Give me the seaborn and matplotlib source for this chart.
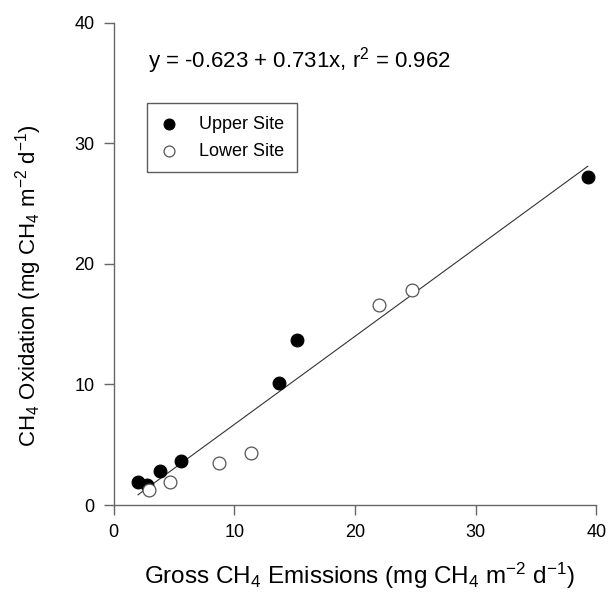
import numpy as np
import pandas as pd
import matplotlib
matplotlib.use("Agg")
import matplotlib.pyplot as plt
import seaborn as sns

# values
upper_x = [2.0, 2.8, 3.8, 5.6, 13.7, 15.2, 39.3]
upper_y = [1.9, 1.7, 2.8, 3.65, 10.1, 13.7, 27.2]
lower_x = [2.9, 4.7, 8.7, 11.35, 22.0, 24.7]
lower_y = [1.25, 1.9, 3.45, 4.3, 16.6, 17.8]

# regression printed on the chart
intercept = -0.623
slope = 0.731
r2 = 0.962

sns.set_theme(style="white")
plt.rcParams['font.family'] = ['Liberation Sans', 'DejaVu Sans']
plt.rcParams['mathtext.default'] = 'regular'
plt.rcParams['text.color'] = 'black'
plt.rcParams['axes.labelcolor'] = 'black'
plt.rcParams['xtick.labelcolor'] = 'black'
plt.rcParams['ytick.labelcolor'] = 'black'

upper = pd.DataFrame({"x": upper_x, "y": upper_y})
lower = pd.DataFrame({"x": lower_x, "y": lower_y})

fig = plt.figure(figsize=(6.09, 6.0), dpi=100)
ax = fig.add_axes([0.1867, 0.1583, 0.7926, 0.8038])

# fitted line over the range of the data
all_x = np.array(upper_x + lower_x)
fit = pd.DataFrame({"x": [all_x.min(), all_x.max()]})
fit["y"] = intercept + slope * fit["x"]
sns.lineplot(data=fit, x="x", y="y", color="#333333", linewidth=0.8, ax=ax)

sns.scatterplot(data=upper, x="x", y="y", ax=ax, s=85, color="black",
                edgecolor="black", linewidth=0.8, label="Upper Site", zorder=3)
sns.scatterplot(data=lower, x="x", y="y", ax=ax, s=85, facecolor="white",
                edgecolor="#555555", linewidth=0.9, label="Lower Site", zorder=3)

ax.set_xlim(0, 40)
ax.set_ylim(0, 40)
ax.set_xticks([0, 10, 20, 30, 40])
ax.set_yticks([0, 10, 20, 30, 40])
sns.despine(ax=ax)
for s in ["left", "bottom"]:
    ax.spines[s].set_color("#666666")
    ax.spines[s].set_linewidth(1.0)
ax.tick_params(axis="both", which="major", direction="out", length=7, width=1.0,
               color="#666666", labelsize=13, pad=7, left=True, bottom=True)

ax.set_xlabel("Gross CH$_4$ Emissions (mg CH$_4$ m$^{-2}$ d$^{-1}$)", fontsize=17.5)
ax.set_ylabel("CH$_4$ Oxidation (mg CH$_4$ m$^{-2}$ d$^{-1}$)", fontsize=16)
ax.xaxis.set_label_coords(0.508, -0.116)
ax.yaxis.set_label_coords(-0.144, 0.454)

ax.text(2.84, 36.3, f"y = {intercept} + {slope}x, r$^2$ = {r2}", fontsize=16, va="baseline")

leg = ax.legend(loc="upper left", bbox_to_anchor=(0.0696, 0.833), frameon=True,
                fancybox=False, fontsize=13, borderpad=0.7, labelspacing=0.55,
                handlelength=1.0, handletextpad=1.15, markerscale=0.85,
                borderaxespad=0)
leg.get_frame().set_edgecolor("#333333")
leg.get_frame().set_linewidth(1.0)

fig.savefig("out.png", dpi=100)
